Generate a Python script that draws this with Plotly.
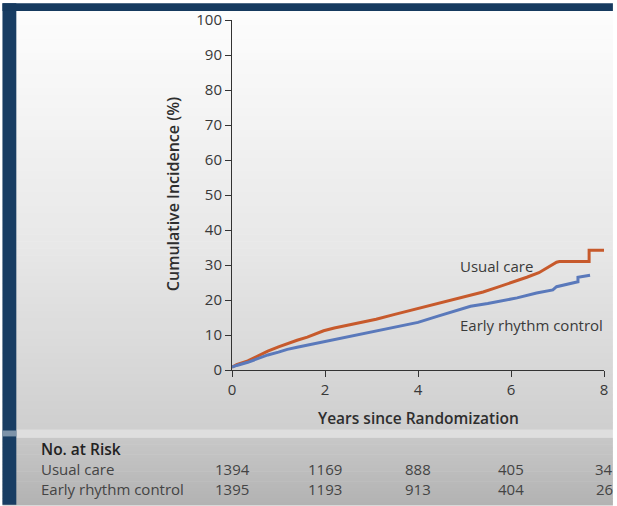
import plotly.graph_objects as go

# ---------------- data ----------------
usual_t = [0, 0.1, 0.34, 0.5, 0.77, 1.0, 1.19, 1.4, 1.62, 1.8, 1.97, 2.2, 2.47, 2.8, 3.1, 3.5,
           4.0, 4.43, 4.8, 5.06, 5.4, 5.7, 6.0, 6.34, 6.6, 6.8, 6.98, 7.04, 7.68, 7.68, 8.05]
usual_y = [0.8, 1.5, 2.6, 3.6, 5.4, 6.6, 7.6, 8.5, 9.4, 10.3, 11.2, 12.0, 12.7, 13.7, 14.5, 15.9,
           17.6, 19.2, 20.4, 21.2, 22.3, 23.6, 24.9, 26.5, 27.8, 29.3, 30.8, 31.0, 31.0, 34.2, 34.2]

early_t = [0, 0.1, 0.34, 0.5, 0.77, 1.0, 1.19, 1.4, 1.62, 2.04, 2.47, 2.8, 3.1, 3.5, 4.0, 4.43,
           4.8, 5.13, 5.5, 5.84, 6.13, 6.55, 6.9, 6.98, 7.33, 7.44, 7.44, 7.7]
early_y = [0.8, 1.3, 2.2, 3.0, 4.3, 5.1, 5.9, 6.5, 7.1, 8.3, 9.3, 10.2, 11.2, 12.3, 13.6, 15.4,
           16.9, 18.2, 19.0, 19.8, 20.6, 22.0, 22.9, 23.8, 24.8, 25.2, 26.5, 27.1]

x_ticks = [0, 2, 4, 6, 8]
y_ticks = [0, 10, 20, 30, 40, 50, 60, 70, 80, 90, 100]

risk_groups = ["Usual care", "Early rhythm control"]
risk_usual = ["1394", "1169", "888", "405", "34"]
risk_early = ["1395", "1193", "913", "404", "26"]

# ---------------- layout geometry ----------------
W, H = 617, 506
L, R, T, B = 232, 9, 17, 136
PW, PH = W - L - R, H - T - B
FONT = "Open Sans"
ORANGE = "#c75a2c"
BLUE = "#5a79bb"


def px(xp):
    return (xp - L) / PW


def py(yp):
    return (H - B - yp) / PH


fig = go.Figure()
fig.add_trace(go.Scatter(x=usual_t, y=usual_y, mode="lines",
                         line=dict(color=ORANGE, width=3), showlegend=False,
                         hoverinfo="skip"))
fig.add_trace(go.Scatter(x=early_t, y=early_y, mode="lines",
                         line=dict(color=BLUE, width=3), showlegend=False,
                         hoverinfo="skip"))

shapes = []


def lerp(c1, c2, f):
    return tuple(round(a + (b - a) * f) for a, b in zip(c1, c2))


# background gradient (upper region)
stops = [(8, (253, 253, 253)), (100, (245, 245, 245)), (250, (231, 231, 231)),
         (430, (207, 207, 207))]
n = 60
for i in range(n):
    y0 = 8 + (430 - 8) * i / n
    y1 = 8 + (430 - 8) * (i + 1) / n + 0.6
    ym = (y0 + y1) / 2
    for (a, ca), (b, cb) in zip(stops[:-1], stops[1:]):
        if a <= ym <= b:
            c = lerp(ca, cb, (ym - a) / (b - a))
            break
    shapes.append(dict(type="rect", xref="paper", yref="paper", layer="below",
                       x0=px(0), x1=px(W), y0=py(y1), y1=py(y0),
                       fillcolor="rgb(%d,%d,%d)" % c, line=dict(width=0)))
# light stripe
shapes.append(dict(type="rect", xref="paper", yref="paper", layer="below",
                   x0=px(0), x1=px(W), y0=py(438), y1=py(430),
                   fillcolor="rgb(222,222,222)", line=dict(width=0)))
# lower region gradient
n2 = 20
for i in range(n2):
    y0 = 438 + (506 - 438) * i / n2
    y1 = 438 + (506 - 438) * (i + 1) / n2 + 0.6
    f = (i + 0.5) / n2
    c = lerp((200, 200, 200), (178, 178, 178), f)
    shapes.append(dict(type="rect", xref="paper", yref="paper", layer="below",
                       x0=px(0), x1=px(W), y0=py(y1), y1=py(y0),
                       fillcolor="rgb(%d,%d,%d)" % c, line=dict(width=0)))
# blue frame
shapes.append(dict(type="rect", xref="paper", yref="paper", layer="below",
                   x0=px(0), x1=px(14), y0=py(H), y1=py(0),
                   fillcolor="#183d63", line=dict(width=0)))
shapes.append(dict(type="rect", xref="paper", yref="paper", layer="below",
                   x0=px(0), x1=px(W), y0=py(8), y1=py(0),
                   fillcolor="#163a5f", line=dict(width=0)))
shapes.append(dict(type="rect", xref="paper", yref="paper", layer="below",
                   x0=px(0), x1=px(14), y0=py(437), y1=py(431),
                   fillcolor="#7d93a9", line=dict(width=0)))

fig.update_layout(
    width=W, height=H,
    margin=dict(l=L, r=R, t=T, b=B),
    paper_bgcolor="white",
    plot_bgcolor="rgba(0,0,0,0)",
    font=dict(family=FONT, color="#3a3a3a", size=14),
    shapes=shapes,
    hovermode=False,
    xaxis=dict(range=[0, 8], tickvals=x_ticks, ticktext=[str(v) for v in x_ticks],
               showgrid=False, zeroline=False, showline=True, linecolor="#333",
               linewidth=1, ticks="outside", ticklen=6, tickcolor="#333",
               tickfont=dict(size=15, color="#383838", family=FONT)),
    yaxis=dict(range=[0, 100], tickvals=y_ticks, ticktext=[str(v) for v in y_ticks],
               showgrid=False, zeroline=False, showline=True, linecolor="#333",
               linewidth=1, ticks="outside", ticklen=6, tickcolor="#333",
               tickfont=dict(size=15, color="#383838", family=FONT)),
)

ann = []
ann.append(dict(text="Cumulative Incidence (%)", xref="paper", yref="paper",
                x=px(172), y=py(193), textangle=-90, showarrow=False,
                xanchor="center", yanchor="middle",
                font=dict(size=16, color="#2e2e2e", family=FONT, weight=600)))
ann.append(dict(text="Years since Randomization", xref="paper", yref="paper",
                x=px(420), y=py(418), showarrow=False,
                xanchor="center", yanchor="middle",
                font=dict(size=15.5, color="#2e2e2e", family=FONT, weight=600)))
ann.append(dict(text="Usual care", x=4.85, y=29.7, xref="x", yref="y",
                xanchor="left", yanchor="middle", showarrow=False,
                font=dict(size=15, color="#3a3a3a", family=FONT)))
ann.append(dict(text="Early rhythm control", x=4.85, y=13.0, xref="x", yref="y",
                xanchor="left", yanchor="middle", showarrow=False,
                font=dict(size=15, color="#3a3a3a", family=FONT)))
ann.append(dict(text="No. at Risk", xref="paper", yref="paper", x=px(37), y=py(450),
                xanchor="left", yanchor="middle", showarrow=False,
                font=dict(size=15.5, color="#222", family=FONT, weight=600)))
for g, (name, vals) in enumerate(zip(risk_groups, [risk_usual, risk_early])):
    yy = py(470 + 20 * g)
    ann.append(dict(text=name, xref="paper", yref="paper", x=px(37), y=yy,
                    xanchor="left", yanchor="middle", showarrow=False,
                    font=dict(size=15, color="#444", family=FONT)))
    for xv, v in zip(x_ticks, vals):
        ann.append(dict(text=v, xref="x", yref="paper", x=xv, y=yy,
                        xanchor="center", yanchor="middle", showarrow=False,
                        font=dict(size=15, color="#444", family=FONT)))
fig.update_layout(annotations=ann)

fig.write_html("out.html",
               config={"displayModeBar": False, "staticPlot": True},
               post_script="document.body.style.margin='0px';"
                           "document.body.style.overflow='hidden';")
